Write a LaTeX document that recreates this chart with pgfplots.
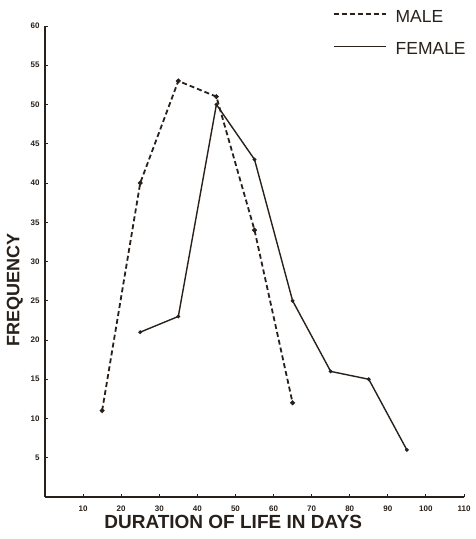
\documentclass[border=0pt]{standalone}
\usepackage{fontspec}
\setmainfont{Liberation Sans}
\usepackage{pgfplots}
\pgfplotsset{compat=1.18}
\definecolor{ink}{RGB}{40,32,26}
\begin{document}
\begin{tikzpicture}
\begin{axis}[name=ax, at={(0,0)}, anchor=south west,
  scale only axis, width=419pt, height=471pt,
  xmin=0, xmax=110, ymin=0, ymax=60,
  axis lines*=left,
  axis line style={ink, line width=1.6pt},
  xtick={10,20,...,110}, ytick={5,10,...,60},
  tick style={ink, line width=0.9pt}, major tick length=3pt, tick align=inside,
  ticklabel style={text=ink, font=\bfseries\fontsize{8}{8}\selectfont},
  /pgf/number format/assume math mode=true,
  xticklabel style={yshift=-5pt},
  yticklabel style={xshift=-2pt},
  xlabel={DURATION OF LIFE IN DAYS},
  xlabel style={font=\bfseries\fontsize{19}{19}\selectfont, text=ink,
    at={(axis description cs:0.449,-0.053)}, anchor=center},
  ylabel={FREQUENCY},
  ylabel style={font=\bfseries\fontsize{18}{18}\selectfont, text=ink,
    at={(axis description cs:-0.072,0.44)}, anchor=center},
  clip=false,
  legend style={draw=none, fill=none, at={(axis description cs:0.687,1.038)},
    anchor=north west, font=\fontsize{17.5}{17.5}\selectfont, text=ink,
    row sep=15pt, inner sep=0pt, outer sep=0pt},
  legend cell align=left,
  legend image code/.code={\draw[#1] (0pt,3pt) -- (52pt,3pt); \path (59pt,0pt);},
]
\addplot[ink, line width=1.8pt, dash pattern=on 5pt off 3pt,
  mark=*, mark size=1.4pt, mark options={solid}]
  coordinates {(15,11) (25,40) (35,53) (45,51) (55,34) (65,12)};
\addlegendentry{MALE}
\addplot[ink, line width=1.4pt, mark=*, mark size=1.1pt]
  coordinates {(25,21) (35,23) (45,50) (55,43) (65,25) (75,16) (85,15) (95,6)};
\addlegendentry{FEMALE}
\end{axis}
\pgfresetboundingbox
\path[use as bounding box] (ax.south west) ++(-45pt,-42pt) rectangle ++(476pt,539pt);
\end{tikzpicture}
\end{document}
